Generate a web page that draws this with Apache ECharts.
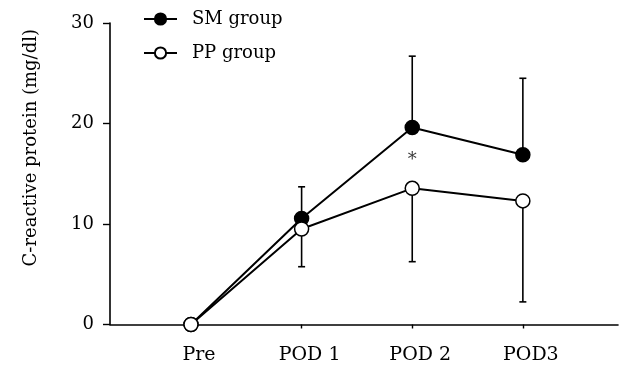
<!DOCTYPE html>
<html>
<head>
<meta charset="utf-8">
<script src="https://cdn.jsdelivr.net/npm/echarts@6/dist/echarts.min.js"></script>
<style>html,body{margin:0;padding:0;background:#fff}#c{width:621px;height:373px}</style>
</head>
<body>
<div id="c"></div>
<script>
var categories = ['Pre', 'POD 1', 'POD 2', 'POD3'];
var smMean = [0, 10.55, 19.6, 16.9];
var smUpper = [null, 13.7, 26.7, 24.5];
var ppMean = [0, 9.5, 13.55, 12.3];
var ppLower = [null, 5.75, 6.25, 2.25];
var yTicks = [0, 10, 20, 30];
var starPoint = [[2, 16.3]];

var FONT = 'DejaVu Serif';

function pairs(arr) { return arr.map(function (v, i) { return [i, v]; }); }
function errData(mean, bound) {
  var out = [];
  for (var i = 0; i < mean.length; i++) {
    if (bound[i] !== null) out.push([i, mean[i], bound[i]]);
  }
  return out;
}
function errRender(params, api) {
  var x = api.value(0);
  var p0 = api.coord([x, api.value(1)]);
  var p1 = api.coord([x, api.value(2)]);
  var hw = 3.5;
  var style = { stroke: '#000', lineWidth: 1.6 };
  return {
    type: 'group',
    children: [
      { type: 'line', shape: { x1: p0[0], y1: p0[1], x2: p1[0], y2: p1[1] }, style: style },
      { type: 'line', shape: { x1: p1[0] - hw, y1: p1[1], x2: p1[0] + hw, y2: p1[1] }, style: style }
    ]
  };
}

var chart = echarts.init(document.getElementById('c'), null, { renderer: 'canvas' });
chart.setOption({
  animation: false,
  backgroundColor: '#fff',
  textStyle: { fontFamily: FONT, color: '#000' },
  grid: { left: 110, right: 3, top: 23, bottom: 48.5, containLabel: false },
  legend: {
    orient: 'vertical',
    left: 138,
    top: 5,
    itemWidth: 33,
    itemHeight: 14,
    itemGap: 16,
    data: ['SM group', 'PP group'],
    textStyle: { fontFamily: FONT, fontSize: 18, color: '#000', padding: [0, 0, 0, 10] }
  },
  xAxis: {
    type: 'value',
    min: -0.732,
    max: 3.86,
    splitLine: { show: false },
    axisLine: { show: true, onZero: false, lineStyle: { color: '#000', width: 1.6 } },
    axisTick: { show: true, length: 4, customValues: [1, 2, 3], lineStyle: { color: '#000', width: 1.4 } },
    axisLabel: {
      customValues: [0, 1, 2, 3],
      formatter: function (v) { return categories[Math.round(v)]; },
      fontFamily: FONT, fontSize: 19, color: '#000', margin: 21,
      padding: [0, 0, 0, 16]
    }
  },
  yAxis: {
    type: 'value',
    min: 0, max: 30, interval: 10,
    splitLine: { show: false },
    axisLine: { show: true, onZero: false, lineStyle: { color: '#000', width: 1.6 } },
    axisTick: { show: true, length: 7, lineStyle: { color: '#000', width: 1.4 } },
    axisLabel: {
      fontFamily: FONT, fontSize: 18, color: '#000', margin: 16,
      formatter: function (v) { return yTicks.indexOf(v) >= 0 ? String(v) : ''; }
    },
    name: 'C-reactive protein (mg/dl)',
    nameLocation: 'middle',
    nameGap: 70,
    nameTextStyle: { fontFamily: FONT, fontSize: 18, color: '#000', padding: [0, 0, 0, 52] }
  },
  series: [
    {
      type: 'custom', name: 'smErr', renderItem: errRender,
      data: errData(smMean, smUpper), z: 1, silent: true
    },
    {
      type: 'custom', name: 'ppErr', renderItem: errRender,
      data: errData(ppMean, ppLower), z: 1, silent: true
    },
    {
      type: 'line', name: 'SM group', data: pairs(smMean),
      symbol: 'circle', symbolSize: 14, z: 3,
      lineStyle: { color: '#000', width: 2 },
      itemStyle: { color: '#000', borderColor: '#000', borderWidth: 1.5 }
    },
    {
      type: 'line', name: 'PP group', data: pairs(ppMean),
      symbol: 'circle', symbolSize: 14, z: 4,
      lineStyle: { color: '#000', width: 2 },
      itemStyle: { color: '#fff', borderColor: '#000', borderWidth: 1.5 }
    },
    {
      type: 'scatter', name: 'star', data: starPoint, symbolSize: 0, z: 5, silent: true,
      label: { show: true, position: 'inside', formatter: '*', fontFamily: FONT, fontSize: 18, color: '#000' }
    }
  ]
});
</script>
</body>
</html>
